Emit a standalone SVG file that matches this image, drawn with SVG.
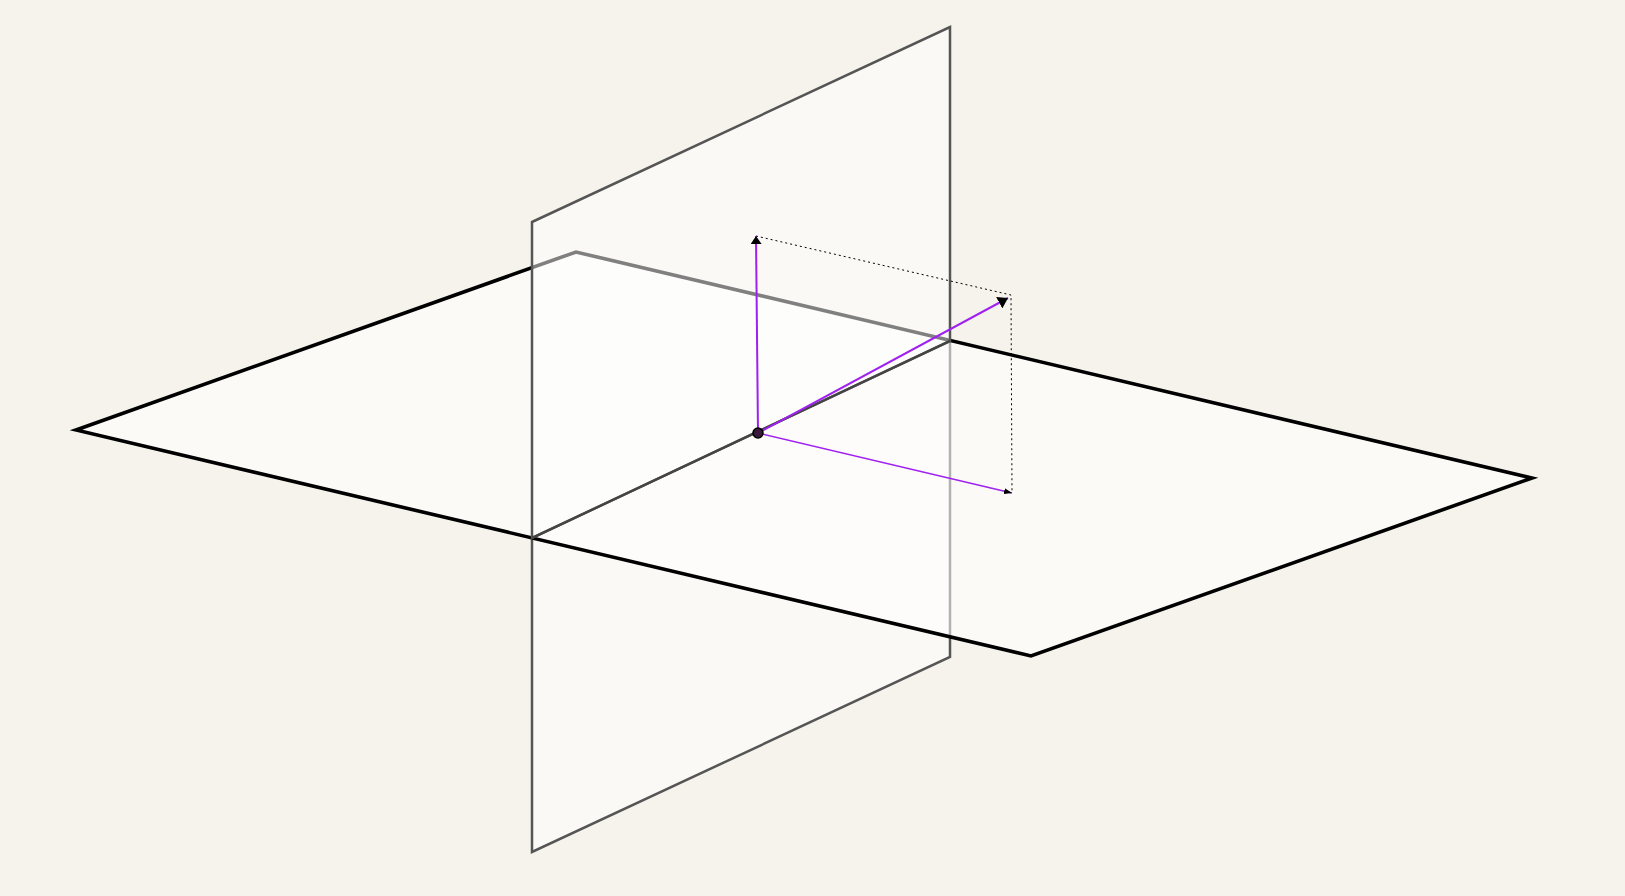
<svg xmlns="http://www.w3.org/2000/svg" width="1625" height="896" viewBox="0 0 1625 896">
<style>
.vplane{fill:#ffffff;fill-opacity:0.5;stroke:#555555;stroke-width:2.5;stroke-linejoin:miter}
.hplane{fill:#ffffff;fill-opacity:0.55;stroke:#000000;stroke-width:3.6;stroke-linejoin:miter}
.vec{stroke:#a020f0;fill:none}
.dot{stroke:#000000;stroke-width:1;stroke-dasharray:2,3;fill:none}
</style>
<defs>
<marker id="hUp" viewBox="0 0 8 11" refX="8" refY="5.5" markerWidth="8" markerHeight="11" markerUnits="userSpaceOnUse" orient="auto"><path d="M0,0 L8,5.5 L0,11 z" fill="#000"/></marker>
<marker id="hDiag" viewBox="0 0 10 13" refX="10" refY="6.5" markerWidth="10" markerHeight="13" markerUnits="userSpaceOnUse" orient="auto"><path d="M0,0 L10,6.5 L0,13 z" fill="#000"/></marker>
<marker id="hLow" viewBox="0 0 8 6" refX="8" refY="3" markerWidth="8" markerHeight="6" markerUnits="userSpaceOnUse" orient="auto"><path d="M0,0 L8,3 L0,6 z" fill="#000"/></marker>
</defs>
<rect width="1625" height="896" fill="#f5f3ec"/>
<g id="vertical-plane-lower">
<polygon class="vplane" points="532,538 950,341 950,657 532,852"/>
</g>
<g id="horizontal-plane">
<polygon class="hplane" points="76,430 576,252 1532,478 1031,656"/>
</g>
<g id="vertical-plane-upper">
<polygon class="vplane" points="532,222 950,27 950,341 532,538"/>
</g>
<g id="intersection">
<line x1="532" y1="538" x2="950" y2="341" stroke="#444444" stroke-width="2.2"/>
</g>
<g id="connectors">
<polyline class="dot" points="756,236 1011,295 1012,493"/>
<line class="vec" x1="758" y1="433" x2="756" y2="236" stroke-width="2" marker-end="url(#hUp)"/>
<line class="vec" x1="758" y1="433" x2="1008" y2="298" stroke-width="2" marker-end="url(#hDiag)"/>
<line class="vec" x1="758" y1="433" x2="1012" y2="493" stroke-width="1.4" marker-end="url(#hLow)"/>
</g>
<g id="origin">
<circle cx="758" cy="433" r="5" fill="#3a1a3a" stroke="#000" stroke-width="1.5"/>
</g>
</svg>
